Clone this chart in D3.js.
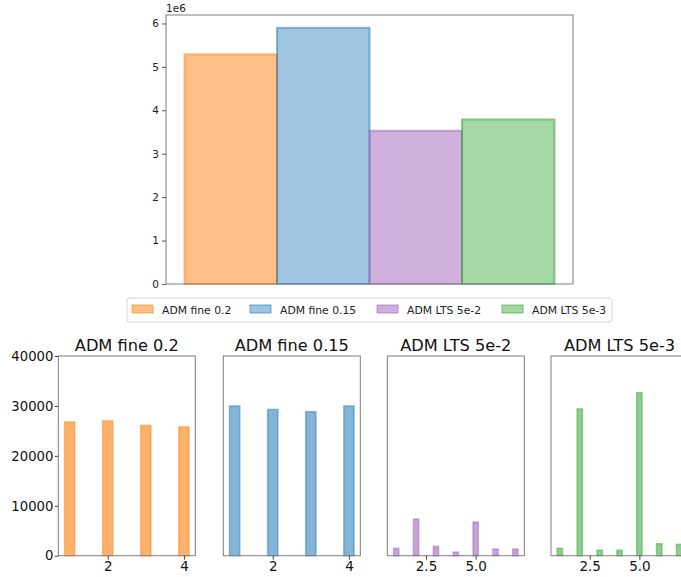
<!DOCTYPE html>
<html><head><meta charset="utf-8">
<script src="https://cdn.jsdelivr.net/npm/d3@7"></script>
<style>
body{margin:0;background:#fff;}
svg{font-family:"DejaVu Sans",sans-serif;}
</style></head>
<body><svg id="c" width="681" height="577"></svg>
<script>
const series = ["ADM fine 0.2","ADM fine 0.15","ADM LTS 5e-2","ADM LTS 5e-3"];
const colors = ["#ff7f0e","#1f77b4","#9f5fb8","#2ca02c"];
const totals = [5.29e6, 5.90e6, 3.53e6, 3.79e6];
const topTicks = [0,1,2,3,4,5,6];
const fineX = [1,2,3,4];
const ltsX = [1,2,3,4,5,6,7];
const fine02 = [26800, 27000, 26100, 25800];
const fine015 = [30000, 29300, 28850, 30000];
const lts52 = [1480, 7350, 1880, 740, 6750, 1340, 1340];
const lts53 = [1480, 29400, 1080, 1080, 32650, 2400, 2280];
const panelX = [fineX, fineX, ltsX, ltsX];
const panelY = [fine02, fine015, lts52, lts53];
const fineTicks = [2,4];
const ltsTicks = [2.5,5.0];
const panelTicks = [fineTicks, fineTicks, ltsTicks, ltsTicks];
const bottomYTicks = [0,10000,20000,30000,40000];

const topAlpha = [0.5, 0.43, 0.5, 0.42];
const botAlpha = [0.62, 0.55, 0.58, 0.52];

const svg = d3.select("#c");
const axisCol = "#7f7f7f";

// ---- top chart
const T = {l:166, r:573, t:15, b:284};
const xT = d3.scaleLinear().domain([-0.7, 3.7]).range([T.l, T.r]);
const yT = d3.scaleLinear().domain([0, 5.90e6*1.05]).range([T.b, T.t]);
const gT = svg.append("g");
gT.selectAll("rect.bar").data(totals).enter().append("rect")
  .attr("x",(d,i)=>xT(i-0.5)).attr("width",(d,i)=>xT(i+0.5)-xT(i-0.5))
  .attr("y",d=>yT(d)).attr("height",d=>yT(0)-yT(d))
  .attr("fill",(d,i)=>colors[i]).attr("fill-opacity",(d,i)=>topAlpha[i])
  .attr("stroke",(d,i)=>colors[i]).attr("stroke-opacity",0.5).attr("stroke-width",2);
gT.append("rect").attr("x",T.l).attr("y",T.t).attr("width",T.r-T.l).attr("height",T.b-T.t)
  .attr("fill","none").attr("stroke",axisCol).attr("stroke-width",1);
const yAxT = gT.append("g").attr("transform",`translate(${T.l},0)`)
  .call(d3.axisLeft(yT).tickValues(topTicks.map(v=>v*1e6)).tickFormat(d=>d/1e6).tickSize(4).tickPadding(3));
yAxT.select(".domain").remove();
yAxT.selectAll("line").attr("stroke","#555");
yAxT.selectAll("text").attr("font-size",10.5).attr("fill","#222").attr("font-family","DejaVu Sans");
gT.append("text").attr("x",T.l).attr("y",12).attr("font-size",10.5).attr("fill","#222").text("1e6");

// ---- legend
const L = {x:127, y:298, w:485, h:24};
svg.append("rect").attr("x",L.x).attr("y",L.y).attr("width",L.w).attr("height",L.h)
  .attr("rx",3).attr("fill","#fff").attr("stroke","#d6d6d6");
const legX = [132, 250, 377, 502];
series.forEach((s,i)=>{
  svg.append("rect").attr("x",legX[i]).attr("y",L.y+7).attr("width",21).attr("height",8)
    .attr("fill",colors[i]).attr("fill-opacity",topAlpha[i]).attr("stroke",colors[i]).attr("stroke-opacity",0.5).attr("stroke-width",1.2);
  svg.append("text").attr("x",legX[i]+30).attr("y",L.y+15.5).attr("font-size",10.8).attr("fill","#222").text(s);
});

// ---- bottom panels
const B = {t:356, b:555.7, w:137};
const lefts = [58.3, 223.3, 387.3, 551];
const yB = d3.scaleLinear().domain([0,40000]).range([B.b, B.t]);
const bw = 0.27;
series.forEach((s,i)=>{
  const xs = panelX[i], ys = panelY[i];
  const lo = d3.min(xs)-bw/2, hi = d3.max(xs)+bw/2, m = 0.05*(hi-lo);
  const x = d3.scaleLinear().domain([lo-m, hi+m]).range([lefts[i], lefts[i]+B.w]);
  const g = svg.append("g");
  g.selectAll("rect.bar").data(xs.map((v,k)=>({x:v,y:ys[k]}))).enter().append("rect")
    .attr("x",d=>x(d.x-bw/2)).attr("width",d=>x(d.x+bw/2)-x(d.x-bw/2))
    .attr("y",d=>yB(d.y)).attr("height",d=>yB(0)-yB(d.y))
    .attr("fill",colors[i]).attr("fill-opacity",botAlpha[i])
    .attr("stroke",colors[i]).attr("stroke-opacity",0.45).attr("stroke-width",1.5);
  g.append("rect").attr("x",lefts[i]).attr("y",B.t).attr("width",B.w).attr("height",B.b-B.t)
    .attr("fill","none").attr("stroke",axisCol).attr("stroke-width",1);
  const xa = g.append("g").attr("transform",`translate(0,${B.b})`)
    .call(d3.axisBottom(x).tickValues(panelTicks[i]).tickFormat(d=>panelTicks[i]===ltsTicks?d3.format(".1f")(d):d).tickSize(4).tickPadding(2));
  xa.select(".domain").remove();
  xa.selectAll("line").attr("stroke","#444");
  xa.selectAll("text").attr("font-size",13.5).attr("fill","#111").attr("font-family","DejaVu Sans");
  g.append("text").attr("x",lefts[i]+B.w/2).attr("y",B.t-5).attr("text-anchor","middle")
    .attr("font-size",16.2).attr("fill","#111").text(s);
  if(i===0){
    const ya = g.append("g").attr("transform",`translate(${lefts[i]},0)`)
      .call(d3.axisLeft(yB).tickValues(bottomYTicks).tickFormat(d=>String(d)).tickSize(3.5).tickPadding(1.5));
    ya.select(".domain").remove();
    ya.selectAll("line").attr("stroke","#444");
    ya.selectAll("text").attr("font-size",13.2).attr("fill","#111").attr("font-family","DejaVu Sans");
  }
});
</script></body></html>
